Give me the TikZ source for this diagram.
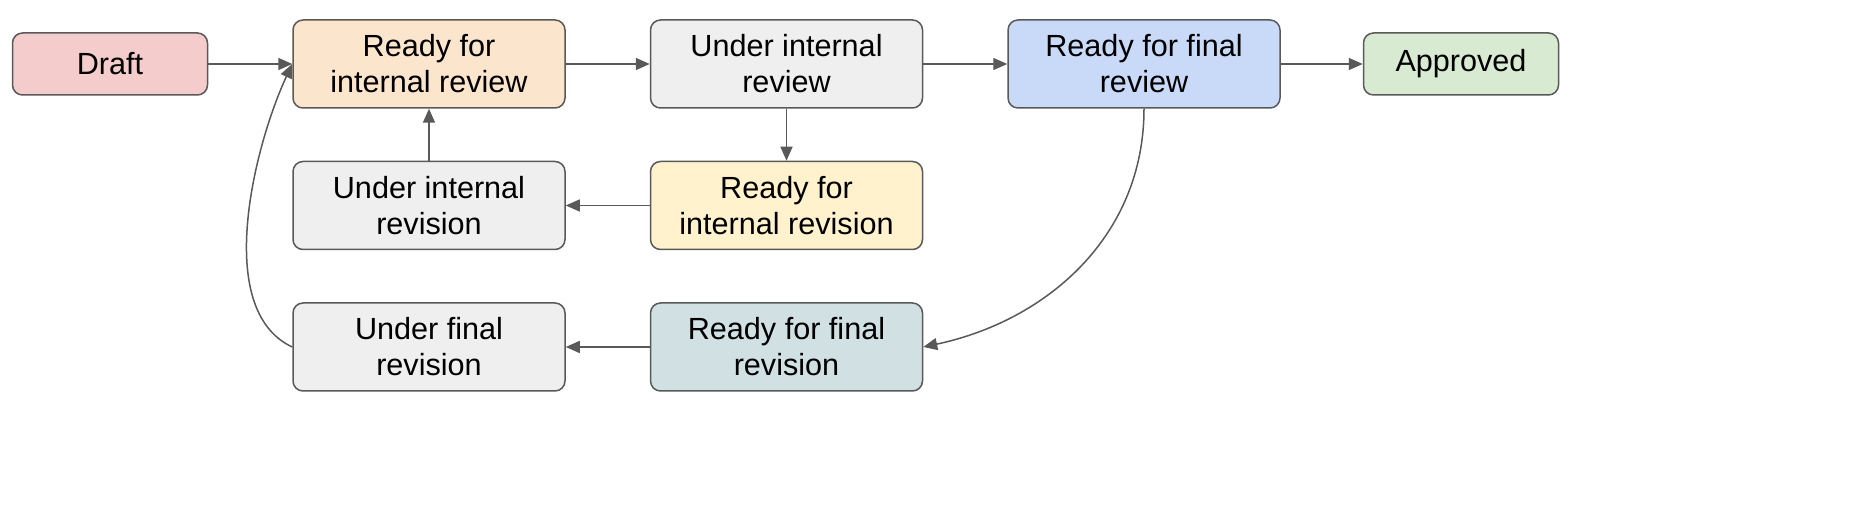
\documentclass[tikz,border=0pt]{standalone}
\usepackage{fontspec}
\setmainfont{Liberation Sans}
\usetikzlibrary{positioning,arrows.meta}
\definecolor{wfLine}{RGB}{89,89,89}
\definecolor{wfRed}{RGB}{244,204,204}
\definecolor{wfOrange}{RGB}{252,229,205}
\definecolor{wfGray}{RGB}{239,239,239}
\definecolor{wfBlue}{RGB}{201,218,248}
\definecolor{wfGreen}{RGB}{217,234,211}
\definecolor{wfYellow}{RGB}{255,242,204}
\definecolor{wfTeal}{RGB}{208,224,227}
\tikzset{
    base/.style={font=\fontsize{15.3}{18}\selectfont, align=center, text=black},
    state/.style={base, rectangle, rounded corners=5pt, draw=wfLine, line width=0.75pt,
                  minimum width=136pt, minimum height=44pt, inner sep=0pt},
    endstate/.style={state, minimum width=97.5pt, minimum height=31pt},
    flow/.style={-{Triangle[length=7pt,width=6pt]}, line width=0.75pt, color=wfLine}
}
\begin{document}
\begin{tikzpicture}
  \useasboundingbox (0,0) rectangle (933.5pt,-253pt);
  % Main line
  \node[endstate, fill=wfRed] (draft) at (55pt,-32pt) {Draft};
  \node[state, fill=wfOrange, right=42pt of draft] (rir) {Ready for\\internal review};
  \node[state, fill=wfGray, right=42pt of rir] (uir) {Under internal\\review};
  \node[state, fill=wfBlue, right=42pt of uir] (rfr) {Ready for final\\review};
  \node[endstate, fill=wfGreen, right=41pt of rfr] (appr) {Approved};

  % Revision loops
  \node[state, fill=wfGray, below=26pt of rir] (uirev) {Under internal\\revision};
  \node[state, fill=wfYellow, below=26pt of uir] (rirev) {Ready for\\internal revision};
  \node[state, fill=wfGray, below=26pt of uirev] (ufrev) {Under final\\revision};
  \node[state, fill=wfTeal, below=26pt of rirev] (rfrev) {Ready for final\\revision};

  % Transitions
  \draw[flow] (draft) -- (rir);
  \draw[flow] (rir) -- (uir);
  \draw[flow] (uir) -- (rfr);
  \draw[flow] (rfr) -- (appr);
  \draw[flow] (uir) -- (rirev);
  \draw[flow] (rirev) -- (uirev);
  \draw[flow] (uirev) -- (rir);
  \draw[flow] (rfrev) -- (ufrev);
  \draw[flow] (rfr.south) to[out=-90, in=12] (rfrev.east);
  \draw[flow] (ufrev.west) to[out=155, in=-115, looseness=0.8] (rir.west);
\end{tikzpicture}
\end{document}
